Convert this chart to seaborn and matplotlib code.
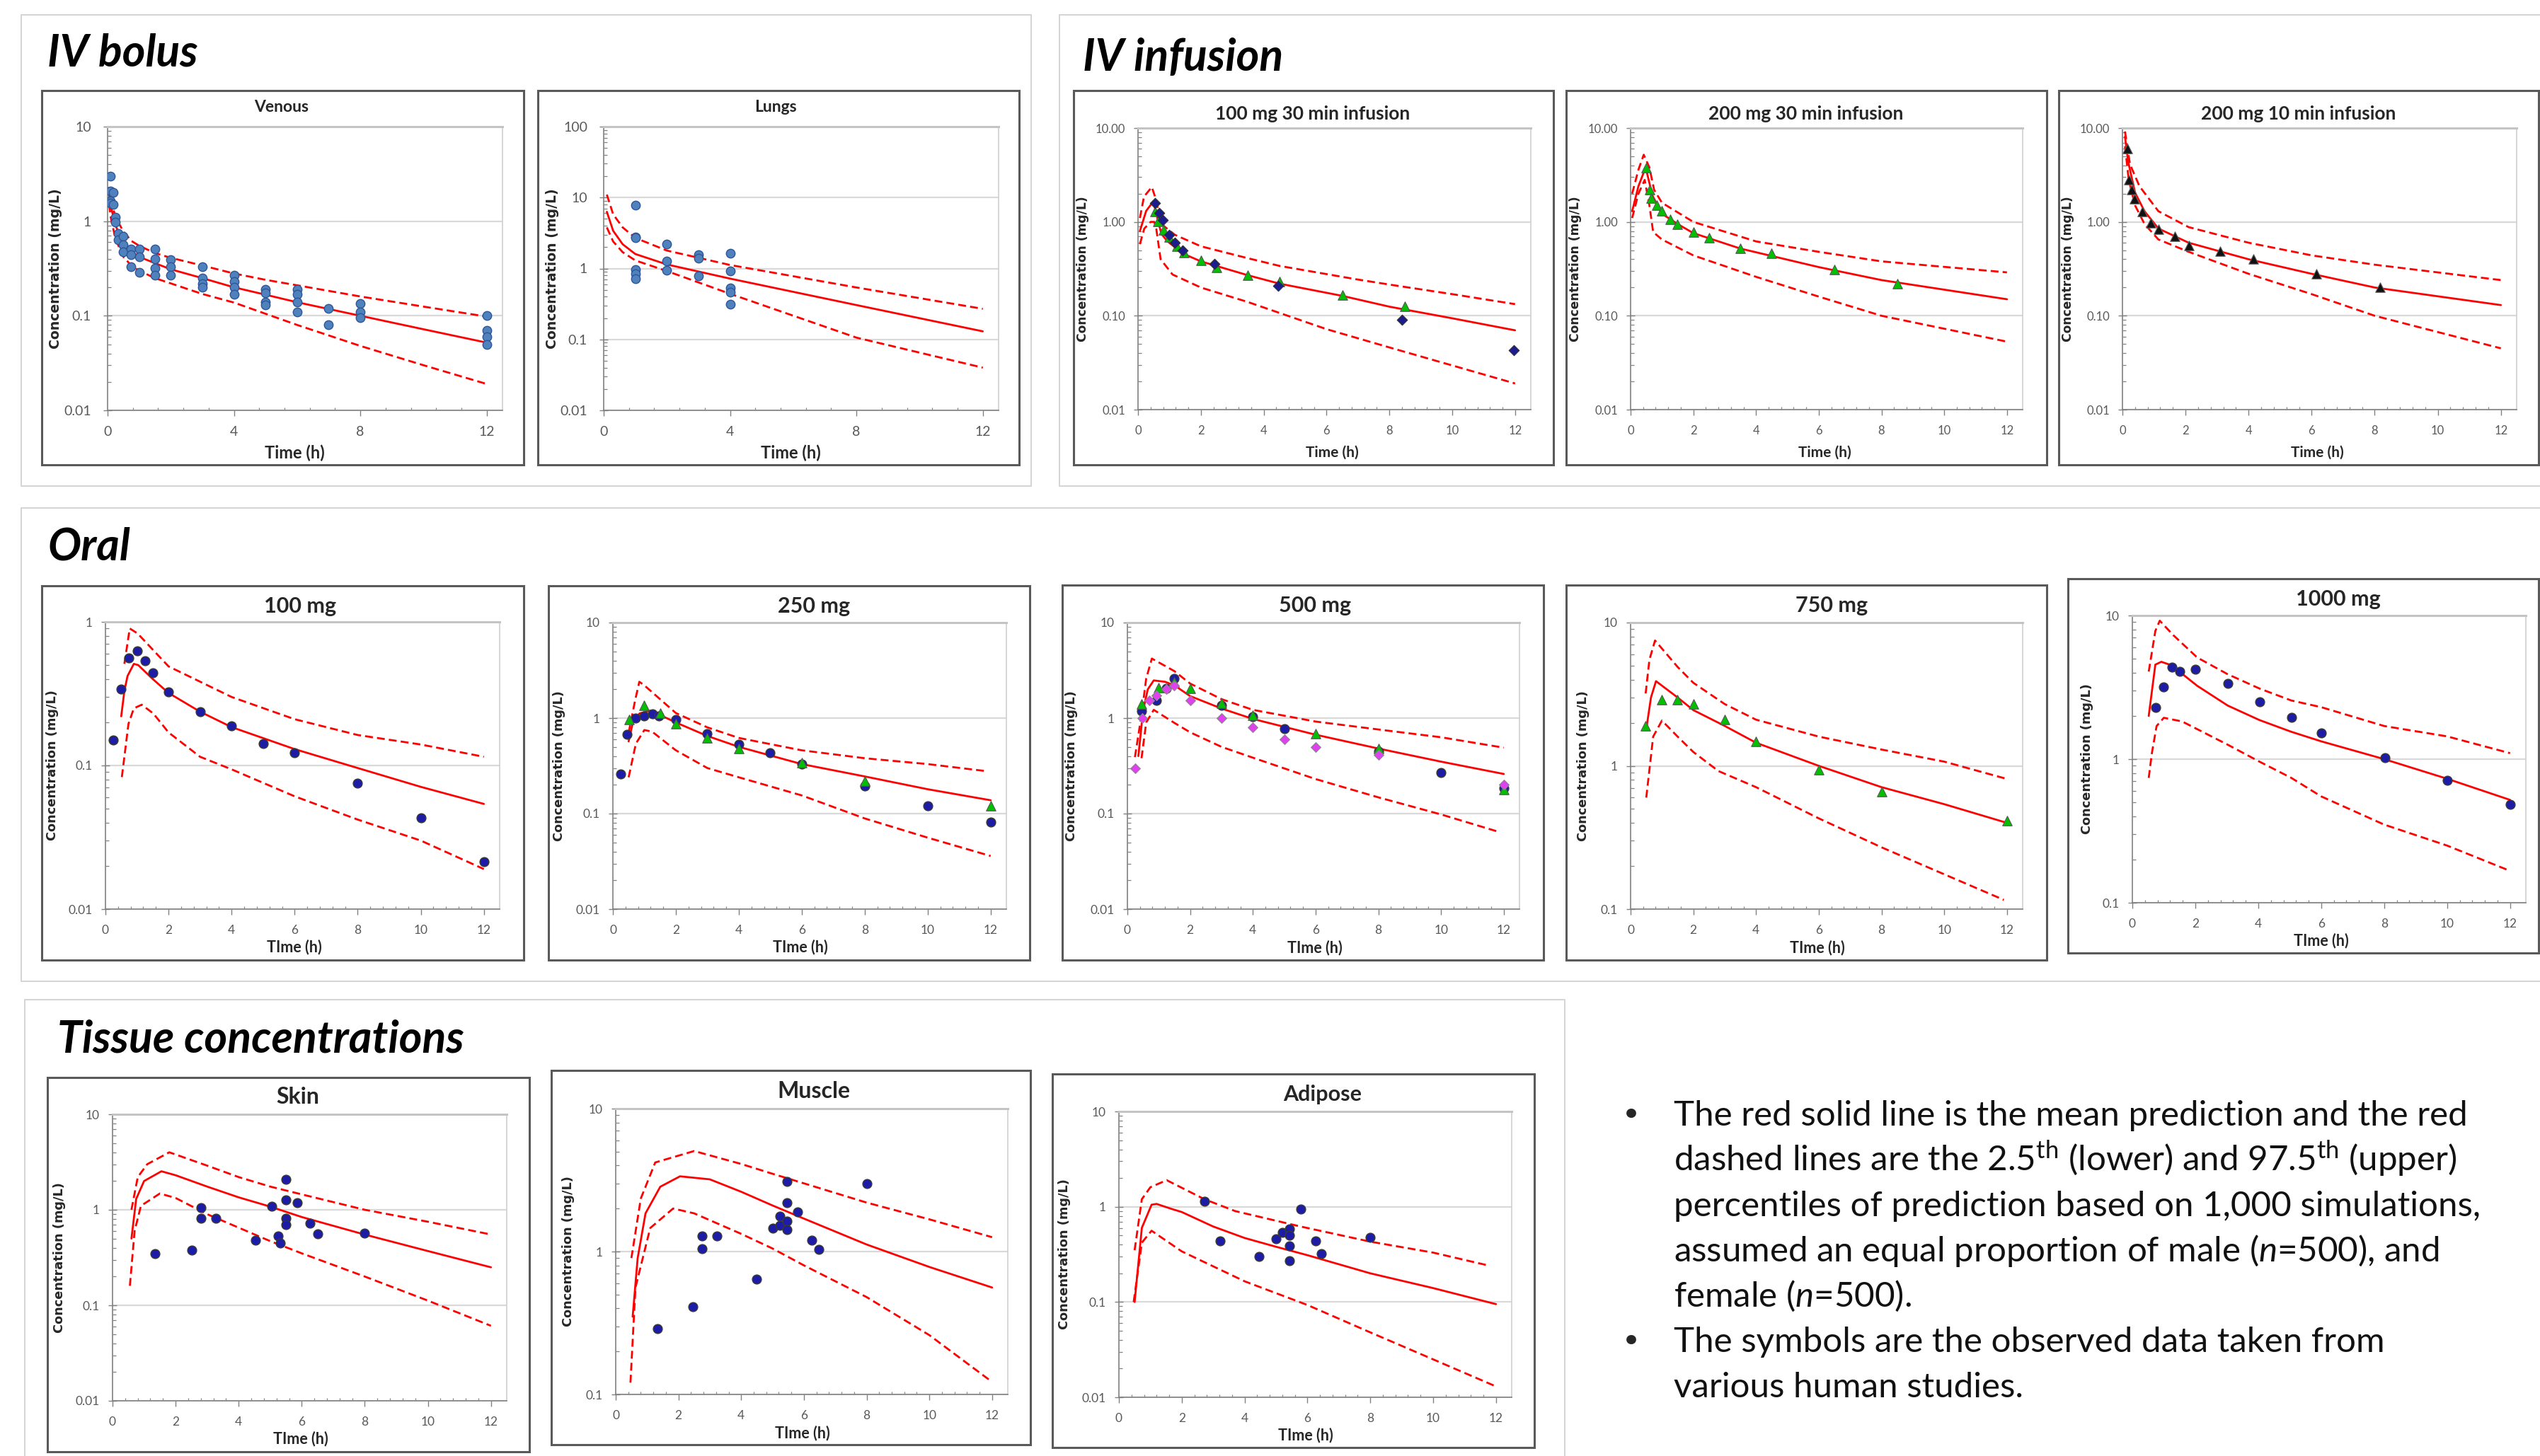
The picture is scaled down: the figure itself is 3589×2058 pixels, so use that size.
import matplotlib
matplotlib.use("Agg")
import numpy as np
import matplotlib.pyplot as plt
import seaborn as sns
from matplotlib.patches import Rectangle
from matplotlib.ticker import FixedLocator, FixedFormatter, NullFormatter, LogLocator

# ---------------- data (time h, concentration mg/L) ----------------

# IV bolus - venous
venous_obs_t = [0.08, 0.08, 0.08, 0.08, 0.17, 0.17, 0.25, 0.25, 0.33, 0.33, 0.5, 0.5, 0.5,
                0.75, 0.75, 0.75, 1, 1, 1, 1.5, 1.5, 1.5, 1.5, 2, 2, 2, 3, 3, 3, 3, 4, 4, 4, 4,
                5, 5, 5, 5, 6, 6, 6, 6, 7, 7, 8, 8, 8, 12, 12, 12, 12]
venous_obs_c = [3.0, 2.07, 1.65, 1.55, 2.0, 1.5, 1.1, 0.97, 0.74, 0.64, 0.69, 0.56, 0.47,
                0.51, 0.44, 0.33, 0.51, 0.42, 0.29, 0.51, 0.4, 0.32, 0.27, 0.39, 0.33, 0.27,
                0.33, 0.25, 0.22, 0.2, 0.27, 0.23, 0.2, 0.17, 0.19, 0.175, 0.14, 0.13,
                0.19, 0.17, 0.14, 0.11, 0.12, 0.08, 0.135, 0.11, 0.095, 0.1, 0.07, 0.06, 0.05]
venous_t = [0.05, 0.1, 0.25, 0.5, 0.75, 1, 1.5, 2, 3, 4, 5, 6, 8, 10, 12]
venous_mean = [1.9, 1.45, 0.9, 0.6, 0.48, 0.42, 0.36, 0.31, 0.25, 0.2, 0.167, 0.139, 0.1, 0.072, 0.052]
venous_hi = [2.3, 1.75, 1.1, 0.78, 0.62, 0.55, 0.46, 0.41, 0.34, 0.28, 0.24, 0.21, 0.16, 0.125, 0.098]
venous_lo = [1.5, 1.1, 0.65, 0.42, 0.34, 0.3, 0.25, 0.22, 0.17, 0.138, 0.105, 0.08, 0.048, 0.03, 0.019]

# IV bolus - lungs
lungs_obs_t = [1, 1, 1, 1, 1, 1, 2, 2, 2, 3, 3, 3, 4, 4, 4, 4, 4]
lungs_obs_c = [7.8, 2.8, 2.7, 0.97, 0.85, 0.72, 2.2, 1.28, 0.95, 1.55, 1.39, 0.78,
               1.62, 0.93, 0.53, 0.46, 0.31]
lungs_t = [0.1, 0.3, 0.6, 1, 2, 4, 8, 12]
lungs_mean = [6.3, 3.4, 2.2, 1.6, 1.14, 0.72, 0.305, 0.13]
lungs_hi = [11, 5.8, 3.8, 2.7, 1.79, 1.12, 0.54, 0.27]
lungs_lo = [3.8, 2.4, 1.7, 1.3, 0.92, 0.44, 0.106, 0.04]

# IV infusion - 100 mg 30 min
inf100_dia_t = [0.55, 0.68, 0.78, 0.98, 1.18, 1.43, 2.43, 4.46, 8.4, 11.96]
inf100_dia_c = [1.58, 1.24, 1.05, 0.73, 0.6, 0.5, 0.36, 0.21, 0.091, 0.043]
inf100_tri_t = [0.55, 0.64, 0.81, 1.0, 1.24, 1.46, 2.0, 2.5, 3.5, 4.5, 6.5, 8.5]
inf100_tri_c = [1.28, 1.01, 0.82, 0.69, 0.55, 0.47, 0.39, 0.33, 0.27, 0.23, 0.165, 0.125]
inf100_mean_t = [0.06, 0.26, 0.49, 0.65, 0.75, 0.94, 1.43, 2.0, 3.5, 4.5, 6.5, 8, 10, 12]
inf100_mean = [0.8, 1.31, 1.66, 0.98, 0.74, 0.62, 0.46, 0.38, 0.27, 0.22, 0.163, 0.125, 0.094, 0.07]
inf100_hi_t = [0.06, 0.19, 0.44, 0.59, 0.68, 0.83, 1.17, 2.0, 3.5, 4.5, 6.94, 8, 10, 12]
inf100_hi = [1.1, 1.86, 2.35, 1.66, 1.1, 0.9, 0.73, 0.55, 0.41, 0.34, 0.245, 0.215, 0.17, 0.133]
inf100_lo_t = [0.06, 0.2, 0.4, 0.52, 0.58, 0.72, 1.1, 2, 3.5, 6, 8, 12]
inf100_lo = [0.58, 0.85, 1.0, 1.0, 0.85, 0.4, 0.275, 0.2, 0.14, 0.072, 0.046, 0.019]

# IV infusion - 200 mg 30 min
inf200_tri_t = [0.5, 0.6, 0.66, 0.84, 1.0, 1.27, 1.5, 2.0, 2.5, 3.5, 4.5, 6.5, 8.5]
inf200_tri_c = [3.76, 2.2, 1.78, 1.5, 1.32, 1.07, 0.95, 0.78, 0.68, 0.52, 0.46, 0.31, 0.22]
inf200_mean_t = [0.05, 0.25, 0.48, 0.6, 0.7, 1.0, 1.5, 2, 3.5, 6, 8, 12]
inf200_mean = [1.3, 2.4, 3.8, 2.6, 1.9, 1.22, 0.95, 0.76, 0.52, 0.33, 0.24, 0.15]
inf200_hi_t = [0.05, 0.25, 0.42, 0.6, 0.75, 1.0, 2, 4, 6, 8, 12]
inf200_hi = [2.0, 3.6, 5.2, 3.8, 2.2, 1.6, 1.0, 0.62, 0.48, 0.38, 0.29]
inf200_lo_t = [0.05, 0.25, 0.45, 0.6, 0.72, 1.0, 2, 4, 6, 8, 12]
inf200_lo = [1.1, 2.0, 2.8, 1.5, 0.78, 0.65, 0.44, 0.26, 0.16, 0.1, 0.053]

# IV infusion - 200 mg 10 min
inf10_tri_t = [0.15, 0.21, 0.3, 0.39, 0.63, 0.9, 1.14, 1.66, 2.1, 3.1, 4.16, 6.14, 8.16]
inf10_tri_c = [6.0, 2.8, 2.2, 1.75, 1.3, 0.97, 0.83, 0.7, 0.56, 0.49, 0.4, 0.28, 0.2]
inf10_mean_t = [0.08, 0.18, 0.4, 0.7, 1.14, 2.1, 4, 6, 8, 12]
inf10_mean = [8.1, 4.4, 2.05, 1.3, 0.85, 0.6, 0.4, 0.28, 0.2, 0.13]
inf10_hi_t = [0.08, 0.24, 0.54, 1.14, 2.1, 4, 6, 8, 12]
inf10_hi = [9.2, 4.1, 2.4, 1.3, 0.88, 0.6, 0.44, 0.35, 0.24]
inf10_lo_t = [0.08, 0.2, 0.4, 0.7, 1.14, 2.1, 4, 6, 8, 12]
inf10_lo = [6.4, 2.8, 1.5, 0.95, 0.65, 0.48, 0.28, 0.17, 0.1, 0.045]

# Oral - 100 mg
oral100_obs_t = [0.25, 0.5, 0.75, 1, 1.25, 1.5, 2, 3, 4, 5, 6, 8, 10, 12]
oral100_obs_c = [0.151, 0.34, 0.56, 0.63, 0.535, 0.44, 0.325, 0.237, 0.189, 0.142, 0.122, 0.075, 0.043, 0.0215]
oral100_mean_t = [0.5, 0.6, 0.7, 0.9, 1.04, 1.5, 2, 3, 4, 6, 8, 10, 12]
oral100_mean = [0.22, 0.33, 0.42, 0.51, 0.5, 0.4, 0.32, 0.237, 0.185, 0.13, 0.096, 0.071, 0.054]
oral100_hi_t = [0.6, 0.77, 1.02, 2, 4, 6, 8, 10, 12]
oral100_hi = [0.51, 0.9, 0.83, 0.49, 0.3, 0.21, 0.163, 0.14, 0.115]
oral100_lo_t = [0.52, 0.73, 0.9, 1.15, 1.52, 2, 3, 4, 6, 8, 10, 12]
oral100_lo = [0.083, 0.195, 0.25, 0.265, 0.23, 0.17, 0.115, 0.094, 0.061, 0.042, 0.03, 0.019]

# Oral - 250 mg
oral250_obs_t = [0.25, 0.46, 0.73, 1, 1.25, 1.47, 2, 3, 4, 5, 6, 8, 10, 12]
oral250_obs_c = [0.26, 0.68, 1.0, 1.05, 1.1, 1.05, 0.97, 0.69, 0.53, 0.43, 0.33, 0.195, 0.12, 0.082]
oral250_tri_t = [0.52, 1, 1.5, 2, 3, 4, 6, 8, 12]
oral250_tri_c = [0.97, 1.37, 1.13, 0.87, 0.62, 0.48, 0.34, 0.22, 0.12]
oral250_mean_t = [0.5, 0.65, 0.85, 1.2, 2, 3, 4, 6, 8, 10, 12]
oral250_mean = [0.57, 0.95, 1.12, 1.2, 0.9, 0.65, 0.5, 0.33, 0.245, 0.18, 0.138]
oral250_hi_t = [0.5, 0.7, 0.84, 1, 2, 3, 4, 6, 8, 10, 11.8]
oral250_hi = [0.7, 1.5, 2.4, 2.2, 1.13, 0.8, 0.62, 0.46, 0.38, 0.33, 0.28]
oral250_lo_t = [0.5, 0.73, 1, 1.25, 2, 3, 4, 6, 8, 10, 12]
oral250_lo = [0.24, 0.54, 0.75, 0.72, 0.46, 0.3, 0.24, 0.155, 0.089, 0.056, 0.036]

# Oral - 500 mg
oral500_obs_t = [0.45, 0.93, 1.23, 1.48, 3, 4, 5, 8, 10, 12]
oral500_obs_c = [1.19, 1.53, 2.04, 2.6, 1.36, 1.04, 0.78, 0.45, 0.27, 0.185]
oral500_tri_t = [0.45, 1, 1.48, 2, 3, 4, 6, 8, 12]
oral500_tri_c = [1.4, 2.1, 2.4, 2.05, 1.43, 1.07, 0.69, 0.48, 0.18]
oral500_dia_t = [0.24, 0.48, 0.69, 0.93, 1.23, 1.48, 2, 3, 4, 5, 6, 8, 12]
oral500_dia_c = [0.3, 1.0, 1.53, 1.74, 2.0, 2.2, 1.53, 1.0, 0.8, 0.6, 0.5, 0.41, 0.2]
oral500_mean_t = [0.35, 0.5, 0.65, 0.84, 1.2, 1.5, 2, 3, 4, 6, 8, 10, 12]
oral500_mean = [0.4, 1.2, 2.0, 2.48, 2.4, 2.2, 1.7, 1.26, 0.98, 0.67, 0.48, 0.35, 0.26]
oral500_hi_t = [0.24, 0.45, 0.6, 0.78, 1.5, 2, 3, 4, 6, 8, 10, 12]
oral500_hi = [0.39, 1.08, 2.6, 4.2, 3.1, 2.3, 1.58, 1.22, 0.92, 0.76, 0.63, 0.49]
oral500_lo_t = [0.45, 0.6, 0.84, 1.5, 2, 3, 4, 6, 8, 10, 11.8]
oral500_lo = [0.38, 0.9, 1.22, 0.89, 0.71, 0.5, 0.385, 0.23, 0.148, 0.098, 0.065]

# Oral - 750 mg
oral750_tri_t = [0.48, 1, 1.5, 2, 3, 4, 6, 8, 12]
oral750_tri_c = [1.9, 2.9, 2.9, 2.7, 2.1, 1.48, 0.94, 0.66, 0.415]
oral750_mean_t = [0.5, 0.65, 0.81, 1.5, 2, 3, 4, 6, 8, 10, 12]
oral750_mean = [1.8, 3.0, 3.9, 3.0, 2.45, 1.9, 1.45, 1.0, 0.71, 0.54, 0.4]
oral750_hi_t = [0.48, 0.6, 0.78, 1.5, 2, 3, 4, 6, 8, 10, 12]
oral750_hi = [3.2, 5.5, 7.5, 4.9, 3.8, 2.7, 2.1, 1.6, 1.3, 1.07, 0.81]
oral750_lo_t = [0.5, 0.72, 1.0, 1.5, 2, 2.8, 4, 6, 8, 10, 11.9]
oral750_lo = [0.6, 1.6, 2.07, 1.6, 1.25, 0.92, 0.71, 0.43, 0.27, 0.175, 0.116]

# Oral - 1000 mg
oral1000_obs_t = [0.75, 0.99, 1.25, 1.51, 2.0, 3.03, 4.04, 5.05, 6, 8.03, 10, 12]
oral1000_obs_c = [2.3, 3.18, 4.35, 4.1, 4.2, 3.36, 2.5, 1.96, 1.53, 1.02, 0.71, 0.485]
oral1000_mean_t = [0.52, 0.73, 0.92, 1.25, 1.58, 2.06, 3.03, 4.04, 5.05, 6, 8, 10, 12]
oral1000_mean = [2.0, 4.55, 4.76, 4.5, 3.93, 3.24, 2.36, 1.87, 1.55, 1.33, 1.0, 0.73, 0.52]
oral1000_hi_t = [0.52, 0.73, 0.87, 1.3, 2.06, 3.03, 4.04, 5.05, 6, 8, 10, 12]
oral1000_hi = [4.07, 7.8, 9.2, 7.3, 5.1, 3.9, 3.1, 2.56, 2.3, 1.7, 1.44, 1.1]
oral1000_lo_t = [0.52, 0.62, 0.77, 1.0, 1.58, 3.03, 4.04, 5.05, 6, 8, 10, 11.9]
oral1000_lo = [0.74, 1.1, 1.7, 1.94, 1.83, 1.26, 0.96, 0.74, 0.55, 0.35, 0.25, 0.17]

# Tissue - skin
skin_obs_t = [1.35, 2.52, 2.8, 2.8, 3.28, 4.54, 5.04, 5.26, 5.32, 5.5, 5.5, 5.5, 5.5, 5.86, 6.27, 6.5, 8]
skin_obs_c = [0.35, 0.38, 1.05, 0.81, 0.82, 0.48, 1.09, 0.53, 0.45, 2.1, 1.26, 0.81, 0.7, 1.19, 0.72, 0.56, 0.57]
skin_mean_t = [0.6, 0.75, 1.0, 1.55, 2, 3, 4, 5, 6, 8, 10, 12]
skin_mean = [0.5, 1.3, 2.0, 2.53, 2.3, 1.75, 1.35, 1.08, 0.84, 0.55, 0.37, 0.25]
skin_hi_t = [0.6, 0.8, 1.1, 1.8, 3, 4, 5, 6, 8, 10, 11.9]
skin_hi = [1.0, 2.2, 3.0, 4.0, 2.9, 2.2, 1.75, 1.45, 1.0, 0.75, 0.56]
skin_lo_t = [0.55, 0.7, 0.9, 1.5, 2, 3, 4, 5, 6, 8, 10, 12]
skin_lo = [0.16, 0.6, 1.1, 1.48, 1.33, 0.9, 0.65, 0.47, 0.35, 0.2, 0.112, 0.061]

# Tissue - muscle
muscle_obs_t = [1.33, 2.46, 2.75, 2.75, 3.22, 4.48, 5, 5.24, 5.24, 5.46, 5.46, 5.46, 5.46, 5.8, 6.25, 6.47, 8]
muscle_obs_c = [0.29, 0.41, 1.29, 1.05, 1.29, 0.64, 1.46, 1.76, 1.53, 3.1, 2.19, 1.64, 1.43, 1.89, 1.2, 1.04, 2.98]
muscle_mean_t = [0.54, 0.7, 0.95, 1.42, 2.05, 3, 4, 5, 6, 8, 10, 12]
muscle_mean = [0.35, 0.9, 1.85, 2.84, 3.36, 3.2, 2.62, 2.1, 1.7, 1.12, 0.78, 0.56]
muscle_hi_t = [0.5, 0.8, 1.26, 2.5, 4, 5, 6, 8, 10, 12]
muscle_hi = [0.9, 2.35, 4.2, 5.05, 4.1, 3.5, 3.0, 2.2, 1.68, 1.26]
muscle_lo_t = [0.47, 0.63, 1.1, 1.83, 2.5, 4, 5, 6, 8, 10, 11.9]
muscle_lo = [0.121, 0.56, 1.46, 2.0, 1.85, 1.33, 1.05, 0.8, 0.48, 0.26, 0.127]

# Tissue - adipose
adipose_obs_t = [2.72, 3.22, 4.45, 5, 5.2, 5.43, 5.43, 5.43, 5.43, 5.78, 6.25, 6.44, 8]
adipose_obs_c = [1.14, 0.44, 0.3, 0.46, 0.54, 0.59, 0.5, 0.39, 0.27, 0.94, 0.44, 0.32, 0.48]
adipose_mean_t = [0.5, 0.73, 1.04, 1.2, 1.67, 2, 3, 4, 5, 6, 8, 10, 12]
adipose_mean = [0.1, 0.6, 1.05, 1.07, 0.95, 0.88, 0.62, 0.47, 0.38, 0.31, 0.2, 0.14, 0.095]
adipose_hi_t = [0.5, 0.73, 1.0, 1.52, 2.72, 3.7, 5.78, 8, 10, 11.8]
adipose_hi = [0.35, 1.2, 1.6, 1.9, 1.2, 0.9, 0.62, 0.43, 0.33, 0.24]
adipose_lo_t = [0.47, 0.73, 1.04, 2, 4, 6, 8, 10, 12]
adipose_lo = [0.1, 0.42, 0.56, 0.34, 0.165, 0.093, 0.048, 0.025, 0.013]

note_lines = [
    "The red solid line is the mean prediction and the red",
    r"dashed lines are the 2.5$^{\mathrm{th}}$ (lower) and 97.5$^{\mathrm{th}}$ (upper)",
    "percentiles of prediction based on 1,000 simulations,",
    r"assumed an equal proportion of male ($\mathit{n}$=500), and",
    r"female ($\mathit{n}$=500).",
    "The symbols are the observed data taken from",
    "various human studies.",
]
note_bullets = [0, 5]

# ---------------- styling ----------------
sns.set_style("white")
plt.rcParams["font.family"] = ["Lato", "DejaVu Sans"]
plt.rcParams["mathtext.fontset"] = "custom"
plt.rcParams["mathtext.rm"] = "Lato"
plt.rcParams["mathtext.it"] = "Lato:italic"
plt.rcParams["mathtext.bf"] = "Lato:bold"

W, H = 3589, 2058
RED = "#ff0000"
DASH = (0, (4.0, 2.1))

MARK = {
    "bolus": dict(marker="o", s=80, color="#4f81bd", edgecolor="#2f5597", linewidth=1.0),
    "navy": dict(marker="o", s=85, color="#1c1ca8", edgecolor="#3a3a30", linewidth=1.0),
    "green": dict(marker="^", s=95, color="#00c000", edgecolor="#555555", linewidth=0.8),
    "diamond": dict(marker="D", s=55, color="#1c1c8e", edgecolor="#303030", linewidth=0.8),
    "magenta": dict(marker="D", s=50, color="#e040f0", edgecolor="#8a8a8a", linewidth=0.8),
    "black": dict(marker="^", s=95, color="#111111", edgecolor="#606060", linewidth=0.8),
}

DEC3 = ["0.01", "0.1", "1", "10"]
DEC_INF = ["0.01", "0.10", "1.00", "10.00"]

panels = [
    dict(frame=(59, 128, 740, 657), plot=(152, 179, 710, 580), ylim=(0.01, 10), ylabels=DEC3,
         xstep=4, tick_fs=14, pad=12, title=("Venous", 398, 152, 16.5), xlab=("Time (h)", 416, 640, 17),
         ylab=(79, 13.6), mean=(venous_t, venous_mean), hi=(venous_t, venous_hi), lo=(venous_t, venous_lo),
         obs=[(venous_obs_t, venous_obs_c, "bolus")]),
    dict(frame=(760, 128, 1440, 657), plot=(853, 179, 1411, 580), ylim=(0.01, 100),
         ylabels=["0.01", "0.1", "1", "10", "100"], xstep=4, tick_fs=14, pad=12,
         title=("Lungs", 1096, 152, 16.5), xlab=("Time (h)", 1117, 640, 17), ylab=(780, 13.6),
         mean=(lungs_t, lungs_mean), hi=(lungs_t, lungs_hi), lo=(lungs_t, lungs_lo),
         obs=[(lungs_obs_t, lungs_obs_c, "bolus")]),
    dict(frame=(1517, 128, 2195, 657), plot=(1608, 181, 2163, 579), ylim=(0.01, 10), ylabels=DEC_INF,
         xstep=2, tick_fs=12, pad=8.5, title=("100 mg 30 min infusion", 1855, 161, 19),
         xlab=("Time (h)", 1882, 640, 15), ylab=(1530, 12.3),
         mean=(inf100_mean_t, inf100_mean), hi=(inf100_hi_t, inf100_hi), lo=(inf100_lo_t, inf100_lo),
         obs=[(inf100_tri_t, inf100_tri_c, "green"), (inf100_dia_t, inf100_dia_c, "diamond")]),
    dict(frame=(2213, 128, 2892, 657), plot=(2304, 181, 2858, 579), ylim=(0.01, 10), ylabels=DEC_INF,
         xstep=2, tick_fs=12, pad=8.5, title=("200 mg 30 min infusion", 2552, 161, 19),
         xlab=("Time (h)", 2578, 640, 15), ylab=(2226, 12.3),
         mean=(inf200_mean_t, inf200_mean), hi=(inf200_hi_t, inf200_hi), lo=(inf200_lo_t, inf200_lo),
         obs=[(inf200_tri_t, inf200_tri_c, "green")]),
    dict(frame=(2909, 128, 3587, 657), plot=(2999, 181, 3556, 579), ylim=(0.01, 10), ylabels=DEC_INF,
         xstep=2, tick_fs=12, pad=8.5, title=("200 mg 10 min infusion", 3248, 161, 19),
         xlab=("Time (h)", 3274, 640, 15), ylab=(2922, 12.3),
         mean=(inf10_mean_t, inf10_mean), hi=(inf10_hi_t, inf10_hi), lo=(inf10_lo_t, inf10_lo),
         obs=[(inf10_tri_t, inf10_tri_c, "black")]),
    dict(frame=(59, 828, 740, 1357), plot=(149, 879, 706, 1285), ylim=(0.01, 1), ylabels=DEC3[:3],
         xstep=2, tick_fs=12.5, pad=8.5, title=("100 mg", 424, 857, 22), xlab=("TIme (h)", 416, 1339, 15.5),
         ylab=(74, 12.8), mean=(oral100_mean_t, oral100_mean), hi=(oral100_hi_t, oral100_hi),
         lo=(oral100_lo_t, oral100_lo), obs=[(oral100_obs_t, oral100_obs_c, "navy")]),
    dict(frame=(775, 828, 1455, 1357), plot=(866, 880, 1422, 1285), ylim=(0.01, 10), ylabels=DEC3,
         xstep=2, tick_fs=12.5, pad=8.5, title=("250 mg", 1150, 857, 22), xlab=("TIme (h)", 1131, 1339, 15.5),
         ylab=(790, 12.8), mean=(oral250_mean_t, oral250_mean), hi=(oral250_hi_t, oral250_hi),
         lo=(oral250_lo_t, oral250_lo),
         obs=[(oral250_obs_t, oral250_obs_c, "navy"), (oral250_tri_t, oral250_tri_c, "green")]),
    dict(frame=(1501, 827, 2181, 1357), plot=(1593, 880, 2147, 1285), ylim=(0.01, 10), ylabels=DEC3,
         xstep=2, tick_fs=12.5, pad=8.5, title=("500 mg", 1858, 856, 22), xlab=("TIme (h)", 1858, 1340, 15.5),
         ylab=(1514, 12.8), mean=(oral500_mean_t, oral500_mean), hi=(oral500_hi_t, oral500_hi),
         lo=(oral500_lo_t, oral500_lo),
         obs=[(oral500_obs_t, oral500_obs_c, "navy"), (oral500_tri_t, oral500_tri_c, "green"),
              (oral500_dia_t, oral500_dia_c, "magenta")]),
    dict(frame=(2213, 827, 2892, 1357), plot=(2304, 880, 2858, 1285), ylim=(0.1, 10), ylabels=DEC3[1:],
         xstep=2, tick_fs=12.5, pad=8.5, title=("750 mg", 2588, 856, 22), xlab=("TIme (h)", 2568, 1340, 15.5),
         ylab=(2237, 12.8), mean=(oral750_mean_t, oral750_mean), hi=(oral750_hi_t, oral750_hi),
         lo=(oral750_lo_t, oral750_lo), obs=[(oral750_tri_t, oral750_tri_c, "green")]),
    dict(frame=(2922, 818, 3587, 1347), plot=(3013, 870, 3569, 1276), ylim=(0.1, 10), ylabels=DEC3[1:],
         xstep=2, tick_fs=12.5, pad=8.5, title=("1000 mg", 3304, 847, 22), xlab=("TIme (h)", 3280, 1330, 15.5),
         ylab=(2949, 12.8), mean=(oral1000_mean_t, oral1000_mean), hi=(oral1000_hi_t, oral1000_hi),
         lo=(oral1000_lo_t, oral1000_lo), obs=[(oral1000_obs_t, oral1000_obs_c, "navy")]),
    dict(frame=(67, 1523, 748, 2052), plot=(159, 1575, 716, 1980), ylim=(0.01, 10), ylabels=DEC3,
         xstep=2, tick_fs=12.5, pad=8.5, title=("Skin", 421, 1551, 23), xlab=("TIme (h)", 425, 2034, 15.5),
         ylab=(84, 12.8), mean=(skin_mean_t, skin_mean), hi=(skin_hi_t, skin_hi), lo=(skin_lo_t, skin_lo),
         obs=[(skin_obs_t, skin_obs_c, "navy")]),
    dict(frame=(779, 1513, 1456, 2042), plot=(870, 1567, 1424, 1971), ylim=(0.1, 10), ylabels=DEC3[1:],
         xstep=2, tick_fs=12.5, pad=8.5, title=("Muscle", 1150, 1542, 23), xlab=("TIme (h)", 1134, 2026, 15.5),
         ylab=(803, 12.8), mean=(muscle_mean_t, muscle_mean), hi=(muscle_hi_t, muscle_hi),
         lo=(muscle_lo_t, muscle_lo), obs=[(muscle_obs_t, muscle_obs_c, "navy")]),
    dict(frame=(1487, 1518, 2168, 2046), plot=(1581, 1571, 2136, 1975), ylim=(0.01, 10), ylabels=DEC3,
         xstep=2, tick_fs=12.5, pad=8.5, title=("Adipose", 1869, 1547, 22), xlab=("TIme (h)", 1845, 2029, 15.5),
         ylab=(1504, 12.8), mean=(adipose_mean_t, adipose_mean), hi=(adipose_hi_t, adipose_hi),
         lo=(adipose_lo_t, adipose_lo), obs=[(adipose_obs_t, adipose_obs_c, "navy")]),
]

groups = [
    ("IV bolus", (30, 21, 1457, 687), (67, 93)),
    ("IV infusion", (1497, 21, 3620, 687), (1530, 100)),
    ("Oral", (30, 718, 3620, 1387), (67, 792)),
    ("Tissue concentrations", (35, 1413, 2211, 2090), (81, 1488)),
]


def fx(px):
    return px / W


def fy(py):
    return 1 - py / H


def fig_rect(fig, box, ec, lw, z):
    x0, y0, x1, y1 = box
    fig.patches.append(Rectangle((fx(x0), fy(y1)), fx(x1 - x0), (y1 - y0) / H,
                                 transform=fig.transFigure, facecolor="white",
                                 edgecolor=ec, linewidth=lw, zorder=z))


fig = plt.figure(figsize=(W / 100, H / 100), dpi=100)
fig.patch.set_facecolor("white")

for name, box, (tx, ty) in groups:
    fig_rect(fig, box, "#d4d4d4", 1.4, -3)
    fig.text(fx(tx), fy(ty), name, fontsize=45, fontweight="bold", fontstyle="italic",
             ha="left", va="baseline", color="black")

for p in panels:
    fig_rect(fig, p["frame"], "#595959", 2.2, -2)
    x0, y0, x1, y1 = p["plot"]
    ax = fig.add_axes([fx(x0), fy(y1), (x1 - x0) / W, (y1 - y0) / H])
    ax.set_zorder(2)
    ax.set_facecolor("white")

    for key, style in (("mean", "-"), ("hi", DASH), ("lo", DASH)):
        t, c = p[key]
        sns.lineplot(x=t, y=c, ax=ax, color=RED, linewidth=2.0, linestyle=style,
                     estimator=None, sort=False, legend=False, zorder=3)
    for t, c, kind in p["obs"]:
        sns.scatterplot(x=t, y=c, ax=ax, legend=False, zorder=4, **MARK[kind])

    ax.set_yscale("log")
    ax.set_xlim(0, 12.5)
    ax.set_ylim(*p["ylim"])
    lo, hi = p["ylim"]
    decades = [10.0 ** k for k in range(int(round(np.log10(lo))), int(round(np.log10(hi))) + 1)]
    ax.yaxis.set_major_locator(FixedLocator(decades))
    ax.yaxis.set_major_formatter(FixedFormatter(p["ylabels"]))
    ax.yaxis.set_minor_locator(LogLocator(base=10, subs=np.arange(2, 10)))
    ax.yaxis.set_minor_formatter(NullFormatter())
    step = p["xstep"]
    ax.xaxis.set_major_locator(FixedLocator(np.arange(0, 12.01, step)))
    ax.xaxis.set_major_formatter(FixedFormatter([str(int(v)) for v in np.arange(0, 12.01, step)]))
    ax.xaxis.set_minor_locator(FixedLocator(np.arange(0, 12.01, step / 5)))
    ax.set_xlabel("")
    ax.set_ylabel("")

    ax.grid(False)
    ax.yaxis.grid(True, which="major", color="#d9d9d9", linewidth=1.6, zorder=0)
    ax.set_axisbelow(True)
    for side in ("left", "bottom"):
        ax.spines[side].set_color("#808080")
        ax.spines[side].set_linewidth(1.2)
    ax.spines["right"].set_color("#d0d0d0")
    ax.spines["right"].set_linewidth(1.2)
    ax.spines["top"].set_color("#c4c4c4")
    ax.spines["top"].set_linewidth(2.2)

    ax.tick_params(axis="y", which="major", direction="inout", length=9, width=1.0,
                   color="#808080", labelsize=p["tick_fs"], labelcolor="#595959", pad=p["pad"], left=True)
    ax.tick_params(axis="y", which="minor", direction="in", length=3.5, width=0.9, color="#808080", left=True)
    ax.tick_params(axis="x", which="major", direction="out", length=6, width=1.0,
                   color="#808080", labelsize=p["tick_fs"], labelcolor="#595959", pad=10, bottom=True)
    ax.tick_params(axis="x", which="minor", direction="in", length=3, width=0.9, color="#808080", bottom=True)

    title, tx, ty, tfs = p["title"]
    fig.text(fx(tx), fy(ty), title, fontsize=tfs, fontweight="bold", ha="center", va="center")
    xl, lx, ly, lfs = p["xlab"]
    fig.text(fx(lx), fy(ly), xl, fontsize=lfs, fontweight="bold", ha="center", va="center")
    yx, yfs = p["ylab"]
    fig.text(fx(yx), fy((y0 + y1) / 2), "Concentration (mg/L)", fontsize=yfs, fontweight="bold",
             family="DejaVu Sans", rotation=90, ha="center", va="center")

note_base = [1591, 1655, 1719, 1783, 1847, 1911, 1975]
for i, line in enumerate(note_lines):
    if i in note_bullets:
        fig.text(fx(2305), fy(note_base[i]), "\u2022", fontsize=34, ha="center", va="baseline",
                 family=["DejaVu Sans"])
    fig.text(fx(2365), fy(note_base[i]), line, fontsize=35.5, ha="left", va="baseline", color="#111111")

fig.savefig("out.png", dpi=100, facecolor="white")
